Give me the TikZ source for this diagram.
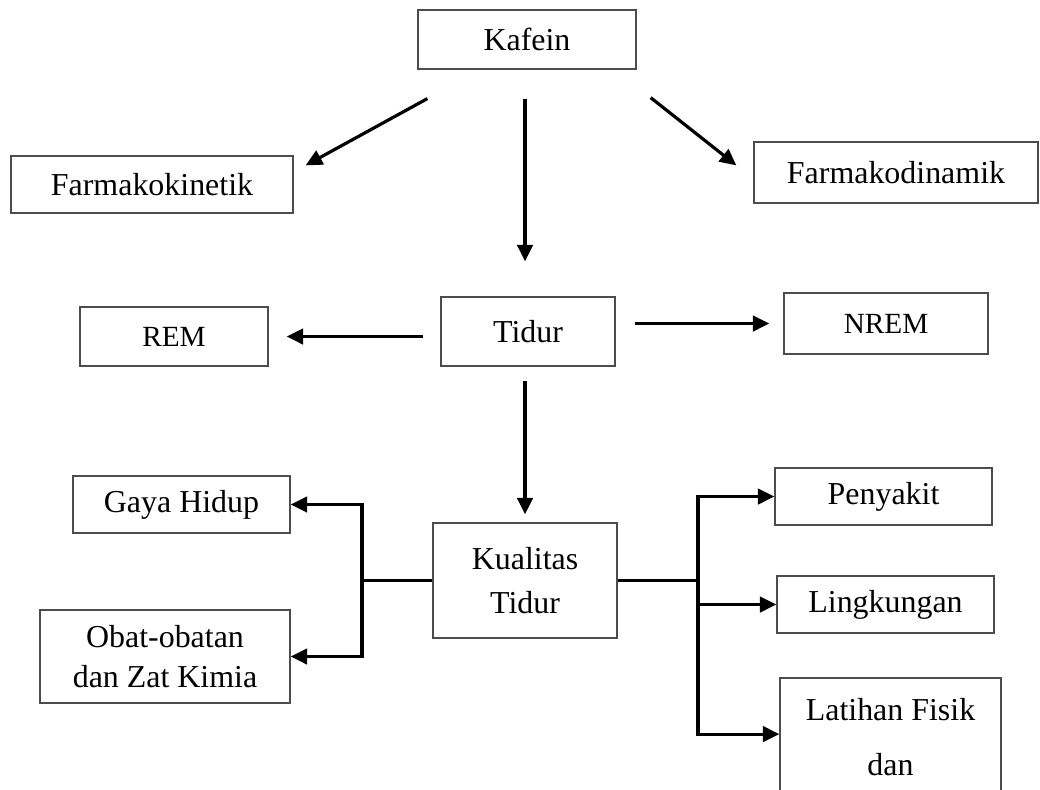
\documentclass[tikz,border=0pt]{standalone}
\usepackage{fontspec}
\setmainfont{Liberation Serif}
\usetikzlibrary{arrows.meta,calc,positioning}
\tikzset{
  link/.style={-{Triangle[length=6.2pt,width=5.8pt]}, line width=1.2pt, draw=black},
  trunk/.style={line width=1.2pt, draw=black},
  box/.style={draw=black!70, line width=0.45pt, rectangle, align=center, inner sep=0pt, font=\fontsize{12}{15}\selectfont},
  smallbox/.style={box, font=\fontsize{11}{14}\selectfont}
}

\begin{document}
\begin{tikzpicture}[x=0.01322cm, y=-0.01322cm]
  \useasboundingbox (0,0) rectangle (1040,789);

  \node[box, minimum width=2.882cm, minimum height=0.780cm] (kafein) at (527,39.5) {Kafein};
  \node[box, minimum width=3.728cm, minimum height=0.754cm] (fkin) at (152,184.5) {Farmakokinetik};
  \node[box, minimum width=3.754cm, minimum height=0.806cm] (fdin) at (896,172.5) {Farmakodinamik};
  \node[smallbox, minimum width=2.485cm, minimum height=0.780cm] (rem) at (174,336.5) {REM};
  \node[box, minimum width=2.300cm, minimum height=0.912cm] (tidur) at (528,331.5) {Tidur};
  \node[smallbox, minimum width=2.697cm, minimum height=0.806cm] (nrem) at (886,323.5) {NREM};
  \node[box, minimum width=2.869cm, minimum height=0.754cm] (gaya) at (181.5,504.5) {Gaya Hidup};
  \node[box, minimum width=3.305cm, minimum height=1.229cm] (obat) at (165,656.5) {Obat-obatan\\dan Zat Kimia};
  \node[box, minimum width=2.432cm, minimum height=1.520cm, font=\fontsize{12}{16.5}\selectfont] (kual) at (525,580.5) {Kualitas\\Tidur};
  \node[box, minimum width=2.869cm, minimum height=0.754cm] (peny) at (883.5,496.5) {Penyakit};
  \node[box, minimum width=2.869cm, minimum height=0.754cm] (ling) at (885.5,604.5) {Lingkungan};
  \node[box, minimum width=2.922cm, minimum height=1.560cm, font=\fontsize{12}{20.7}\selectfont] (latih) at (890.5,737) {Latihan Fisik\\dan};

  \draw[link] ($(kafein.south west)+(10,29)$) -- ($(fkin.north east)+(12,10)$);
  \draw[link] ($(kafein.south -| kual.north)+(0,29)$) -- ($(tidur.north -| kual.north)+(0,-35)$);
  \draw[link] ($(kafein.south east)+(14,28)$) -- ($(fdin.north west)+(-17,24)$);

  \draw[link] ($(tidur.west |- rem.east)+(-17,0)$) -- ($(rem.east)+(18,0)$);
  \draw[link] ($(tidur.east |- nrem.west)+(19,0)$) -- ($(nrem.west)+(-14,0)$);
  \draw[link] ($(tidur.south -| kual.north)+(0,14)$) -- ($(kual.north)+(0,-8)$);

  \coordinate (lsplit) at (362,580.5);
  \coordinate (rsplit) at (698,580.5);
  \draw[trunk] (kual.west) -- (lsplit);
  \draw[link] (lsplit) |- (gaya.east);
  \draw[link] (lsplit) |- (obat.east);
  \draw[trunk] (kual.east) -- (rsplit);
  \draw[link] (rsplit) |- (peny.west);
  \draw[link] (rsplit) |- (ling.west);
  \draw[link] (rsplit) |- ([yshift=1.1pt]latih.west);
\end{tikzpicture}
\end{document}
